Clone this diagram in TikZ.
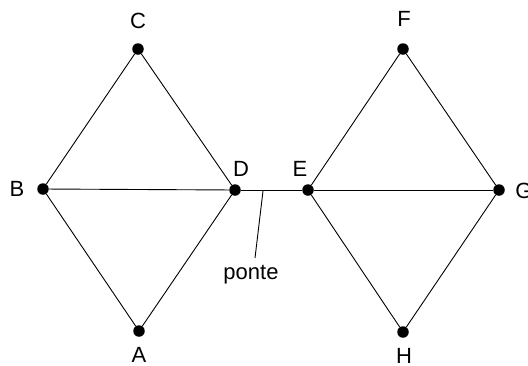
\documentclass[tikz,border=0pt]{standalone}
\usepackage{fontspec}
\setmainfont{Liberation Sans}
\begin{document}
\begin{tikzpicture}[x=1pt,y=-1pt,
  vertex/.style={circle,fill=black,inner sep=0pt,minimum size=11.5pt},
  lbl/.style={font=\fontsize{22}{24}\selectfont,inner sep=0pt},
  edge/.style={draw=black,line width=0.9pt}]
\useasboundingbox (0,0) rectangle (528,365);
% vertices
\node[vertex] (C) at (138,49) {};
\node[vertex] (B) at (43,189) {};
\node[vertex] (D) at (235,190) {};
\node[vertex] (A) at (139,331) {};
\node[vertex] (F) at (403,49) {};
\node[vertex] (E) at (308,190) {};
\node[vertex] (G) at (499,190) {};
\node[vertex] (H) at (403,332) {};
% labels
\node[lbl] at (138,21) {C};
\node[lbl] at (17,189) {B};
\node[lbl] at (241,169) {D};
\node[lbl] at (300,169) {E};
\node[lbl] at (139,355) {A};
\node[lbl] at (404,19) {F};
\node[lbl] at (524,191) {G};
\node[lbl] at (404,356) {H};
% edges
\draw[edge] (C) -- (B) -- (A) -- (D) -- (C);
\draw[edge] (B) -- (D);
\draw[edge] (F) -- (E) -- (H) -- (G) -- (F);
\draw[edge] (E) -- (G);
\draw[edge] (D) -- (E);
% bridge annotation
\node[lbl] (p) at (251,275) {ponte};
\coordinate (pt) at (263,191);
\coordinate (pb) at (255,258);
\draw[line width=0.9pt] (pb) -- (pt);
\end{tikzpicture}
\end{document}
